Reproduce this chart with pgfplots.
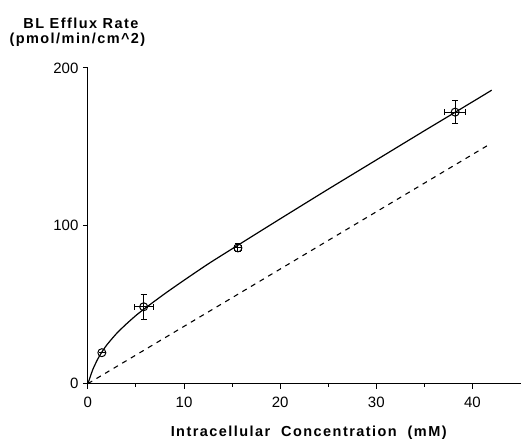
\documentclass[border=0pt]{standalone}
\usepackage{pgfplots}
\pgfplotsset{compat=1.18}
\usepackage{fontspec}
\setmainfont{Liberation Sans}
\newfontfamily\lblfont[LetterSpace=10]{Liberation Sans}

\begin{document}
\begin{tikzpicture}
% invisible frame so the page has the reference's proportions
\path (-88pt,-58pt) rectangle (433pt,384pt);
\begin{axis}[
  at={(0pt,0pt)}, anchor=origin,
  scale only axis,
  width=433pt, height=316pt,
  xmin=0, xmax=45, ymin=0, ymax=200,
  axis x line*=bottom, axis y line*=left,
  axis line style={-, line width=1pt},
  xtick={0,10,20,30,40}, minor xtick={5,15,25,35},
  ytick={0,100,200},
  tick align=outside,
  major tick length=5pt, minor tick length=3pt,
  tick style={black, line width=1pt},
  ticklabel style={font=\fontsize{15}{17}\selectfont},
  xticklabel style={yshift=-5pt},
  yticklabel style={xshift=-1pt},
  /pgf/number format/assume math mode=true,
  clip=false,
]
% fitted curve (solid)
\addplot[black, line width=1.2pt, smooth, tension=0.4] coordinates {
  (0,0) (0.5,8.8) (1,15.3) (1.45,20) (2,24.8) (3,31.9) (4,37.8) (5,43.2)
  (6,48.0) (8,57.0) (10,65.5) (12.5,75.8) (15,85.4) (20,104.4)
  (25,123.2) (30,141.7) (35,160.2) (40,178.5) (42,185.9)
};
% linear component (dashed)
\addplot[black, line width=1.1pt, dash pattern=on 5pt off 5pt] coordinates {
  (0,0) (41.5,150.6)
};
% measured points with error bars
\addplot[only marks, mark=o, mark size=4pt, black, line width=1pt,
  error bars/.cd, x dir=both, x explicit, y dir=both, y explicit,
  error bar style={line width=1pt}, error mark options={rotate=90, mark size=3pt, line width=1pt}]
  coordinates {
  (1.45,19.6) +- (0,0)
  (5.8,48.7) +- (1.0,8)
  (15.6,86) +- (0.4,2.5)
  (38.2,172) +- (1.1,7.3)
};
\end{axis}
\node[font=\lblfont\bfseries\fontsize{14.5}{16}\selectfont] at (-7pt,361pt)
  {BL Efflux Rate};
\node[font=\lblfont\bfseries\fontsize{14.5}{16}\selectfont] at (-10.5pt,344pt)
  {(pmol/min/cm\^{}2)};
\node[font=\lblfont\bfseries\fontsize{14.5}{16}\selectfont] at (221pt,-49pt)
  {Intracellular\ \ Concentration\ \ (mM)};
\end{tikzpicture}
\end{document}
